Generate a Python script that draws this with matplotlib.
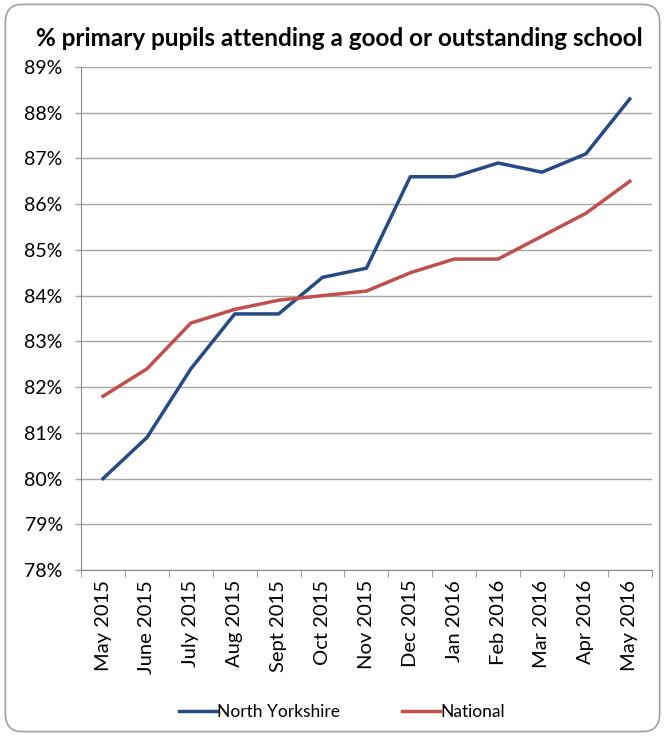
import matplotlib
matplotlib.use("Agg")
import matplotlib.pyplot as plt
from matplotlib.patches import FancyBboxPatch
from matplotlib.ticker import FuncFormatter

months = ["May 2015", "June 2015", "July 2015", "Aug 2015", "Sept 2015", "Oct 2015",
          "Nov 2015", "Dec 2015", "Jan 2016", "Feb 2016", "Mar 2016", "Apr 2016", "May 2016"]
north_yorkshire = [80.0, 80.9, 82.4, 83.6, 83.6, 84.4, 84.6, 86.6, 86.6, 86.9, 86.7, 87.1, 88.3]
national = [81.8, 82.4, 83.4, 83.7, 83.9, 84.0, 84.1, 84.5, 84.8, 84.8, 85.3, 85.8, 86.5]

plt.rcParams['font.family'] = ['Lato', 'DejaVu Sans']

fig = plt.figure(figsize=(6.65, 7.36), dpi=100)
ax = fig.add_axes([0.122, 0.2255, 0.858, 0.6835])

x = list(range(len(months)))
ax.plot(x, north_yorkshire, color="#254A84", lw=2.5, label="North Yorkshire")
ax.plot(x, national, color="#C0504D", lw=2.5, label="National")

ax.set_xlim(-0.5, len(months) - 0.5)
ax.set_ylim(78, 89)
ax.set_yticks(range(78, 90))
ax.yaxis.set_major_formatter(FuncFormatter(lambda v, p: f"{int(v)}%"))
ax.set_xticks(x)
ax.set_xticklabels(months, rotation=90, fontsize=14.5)
ax.tick_params(axis='y', labelsize=14, length=4.3, pad=9, color="#A6A6A6", width=1.0)
ax.tick_params(axis='x', length=0, pad=7)
ax.set_xticks([i - 0.5 for i in range(len(months) + 1)], minor=True)
ax.tick_params(axis='x', which='minor', length=5, color="#888888", direction='out')
ax.grid(axis='y', color="#A6A6A6", lw=1.0)
ax.set_axisbelow(True)
for s in ['top', 'right']:
    ax.spines[s].set_visible(False)
ax.spines['left'].set_color("#888888")
ax.spines['bottom'].set_color("#888888")

fig.text(0.51, 0.948, "% primary pupils attending a good or outstanding school",
         ha='center', va='center', fontsize=17.5, fontweight='bold')

leg = fig.legend(loc='center', bbox_to_anchor=(0.514, 0.033), ncol=2, frameon=False,
                 fontsize=12.5, handlelength=2.2, handletextpad=0.0, columnspacing=3.6)

border = FancyBboxPatch((0.008, 0.006), 0.984, 0.988, boxstyle="round,pad=0,rounding_size=0.025",
                        transform=fig.transFigure, fill=False, edgecolor="#A0A0A0", lw=1.2)
fig.patches.append(border)

fig.savefig("out.png", dpi=100)
